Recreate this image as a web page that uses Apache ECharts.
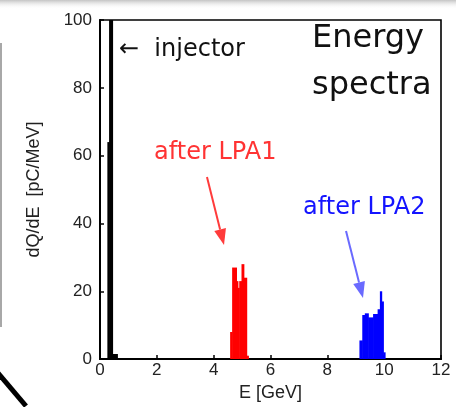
<!DOCTYPE html>
<html>
<head>
<meta charset="utf-8">
<script src="https://cdn.jsdelivr.net/npm/echarts@6/dist/echarts.min.js"></script>
<style>
html,body{margin:0;padding:0;background:#fff;}
#chart{width:456px;height:407px;}
</style>
</head>
<body>
<div id="chart"></div>
<script>
// Energy bin edges (GeV) and dQ/dE per bin (pC/MeV); bin i spans edges i..i+1
const energyInjector = [0.27, 0.33, 0.45, 0.62];
const dqInjector     = [64, 100, 1.5];
const energyLPA1 = [4.59, 4.66, 4.81, 4.86, 4.91, 4.99, 5.07, 5.17, 5.23];
const dqLPA1     = [8, 27, 23, 21, 23, 28, 24, 1];
const energyLPA2 = [9.14, 9.24, 9.33, 9.45, 9.62, 9.78, 9.86, 9.92, 9.98, 10.04];
const dqLPA2     = [5.5, 13, 13.5, 12.3, 13.3, 14.7, 20, 17, 2];
const xTicks = [0, 2, 4, 6, 8, 10, 12];
const yTicks = [0, 20, 40, 60, 80, 100];

function bins(edges, vals) {
  return vals.map((v, i) => [edges[i], edges[i + 1], v]);
}

const chart = echarts.init(document.getElementById('chart'), null, {renderer: 'canvas'});

function spectrum(name, edges, vals, color) {
  return {
    name: name, type: 'custom',
    data: bins(edges, vals),
    encode: {x: [0, 1], y: 2},
    clip: true,
    renderItem: function (params, api) {
      const p0 = api.coord([api.value(0), api.value(2)]);
      const p1 = api.coord([api.value(1), 0]);
      const rect = echarts.graphic.clipRectByRect({
        x: p0[0] - 0.3, y: p0[1], width: p1[0] - p0[0] + 0.6, height: p1[1] - p0[1]
      }, {x: params.coordSys.x, y: params.coordSys.y, width: params.coordSys.width, height: params.coordSys.height});
      return rect && {type: 'rect', shape: rect, style: {fill: color}};
    },
    z: 3, animation: false
  };
}

function arrow(x1, y1, tx, ty, color) {
  const dx = tx - x1, dy = ty - y1, L = Math.hypot(dx, dy);
  const ux = dx / L, uy = dy / L;
  const hl = 16, hw = 6;
  const bx = tx - hl * ux, by = ty - hl * uy;
  const px = -uy * hw, py = ux * hw;
  return [
    {type: 'line', shape: {x1: x1, y1: y1, x2: bx, y2: by}, style: {stroke: color, lineWidth: 2}},
    {type: 'polygon', shape: {points: [[tx, ty], [bx + px, by + py], [bx - px, by - py]]}, style: {fill: color}}
  ];
}

chart.setOption({
  animation: false,
  backgroundColor: '#fff',
  grid: {left: 100, right: 15, top: 20, bottom: 45, show: true, borderColor: '#000', borderWidth: 1.6},
  xAxis: {
    type: 'value', min: xTicks[0], max: xTicks[xTicks.length - 1], interval: 2,
    name: 'E [GeV]', nameLocation: 'middle', nameGap: 19,
    nameTextStyle: {fontFamily: 'Liberation Sans', fontSize: 18, color: '#222'},
    axisLine: {show: true, lineStyle: {color: '#000', width: 2}},
    axisTick: {show: true, inside: true, length: 4, lineStyle: {color: '#000', width: 1.5}},
    axisLabel: {fontFamily: 'Liberation Sans', fontSize: 17, color: '#222', margin: 3},
    splitLine: {show: false}
  },
  yAxis: {
    type: 'value', min: yTicks[0], max: yTicks[yTicks.length - 1], interval: 20,
    name: 'dQ/dE  [pC/MeV]', nameLocation: 'middle', nameGap: 57,
    nameTextStyle: {fontFamily: 'Liberation Sans', fontSize: 18, color: '#222'},
    axisLine: {show: true, lineStyle: {color: '#000', width: 2}},
    axisTick: {show: true, inside: true, length: 4, lineStyle: {color: '#000', width: 1.5}},
    axisLabel: {fontFamily: 'Liberation Sans', fontSize: 17, color: '#222', margin: 8, padding: [0, 0, 6, 0]},
    splitLine: {show: false}
  },
  series: [
    spectrum('injector', energyInjector, dqInjector, '#000000'),
    spectrum('after LPA1', energyLPA1, dqLPA1, '#ff0000'),
    spectrum('after LPA2', energyLPA2, dqLPA2, '#0000ff')
  ],
  graphic: [
    {type: 'rect', shape: {x: 0, y: 0, width: 456, height: 9}, silent: true,
     style: {fill: new echarts.graphic.LinearGradient(0, 0, 0, 1, [{offset: 0, color: '#c4c4c4'}, {offset: 1, color: 'rgba(255,255,255,0)'}])}},
    {type: 'rect', shape: {x: 0, y: 43, width: 2, height: 284}, style: {fill: '#a8a8a8'}},
    {type: 'line', shape: {x1: -2, y1: 373, x2: 26, y2: 406}, style: {stroke: '#000', lineWidth: 5}},
    {type: 'text', left: 119, top: 38, style: {text: '←  injector', font: '24px "DejaVu Sans"', fill: '#111'}},
    {type: 'text', left: 312, top: 23, style: {text: 'Energy', font: '32px "DejaVu Sans"', fill: '#111'}},
    {type: 'text', left: 312, top: 70, style: {text: 'spectra', font: '32px "DejaVu Sans"', fill: '#111'}},
    {type: 'text', left: 154, top: 141, style: {text: 'after LPA1', font: '24px "DejaVu Sans"', fill: '#ff3333'}},
    {type: 'text', left: 303, top: 196, style: {text: 'after LPA2', font: '24px "DejaVu Sans"', fill: '#1414ff'}}
  ].concat(arrow(207, 177, 224, 245, '#ff3b3b')).concat(arrow(346, 231, 363, 298, '#6a6aff'))
});
</script>
</body>
</html>
